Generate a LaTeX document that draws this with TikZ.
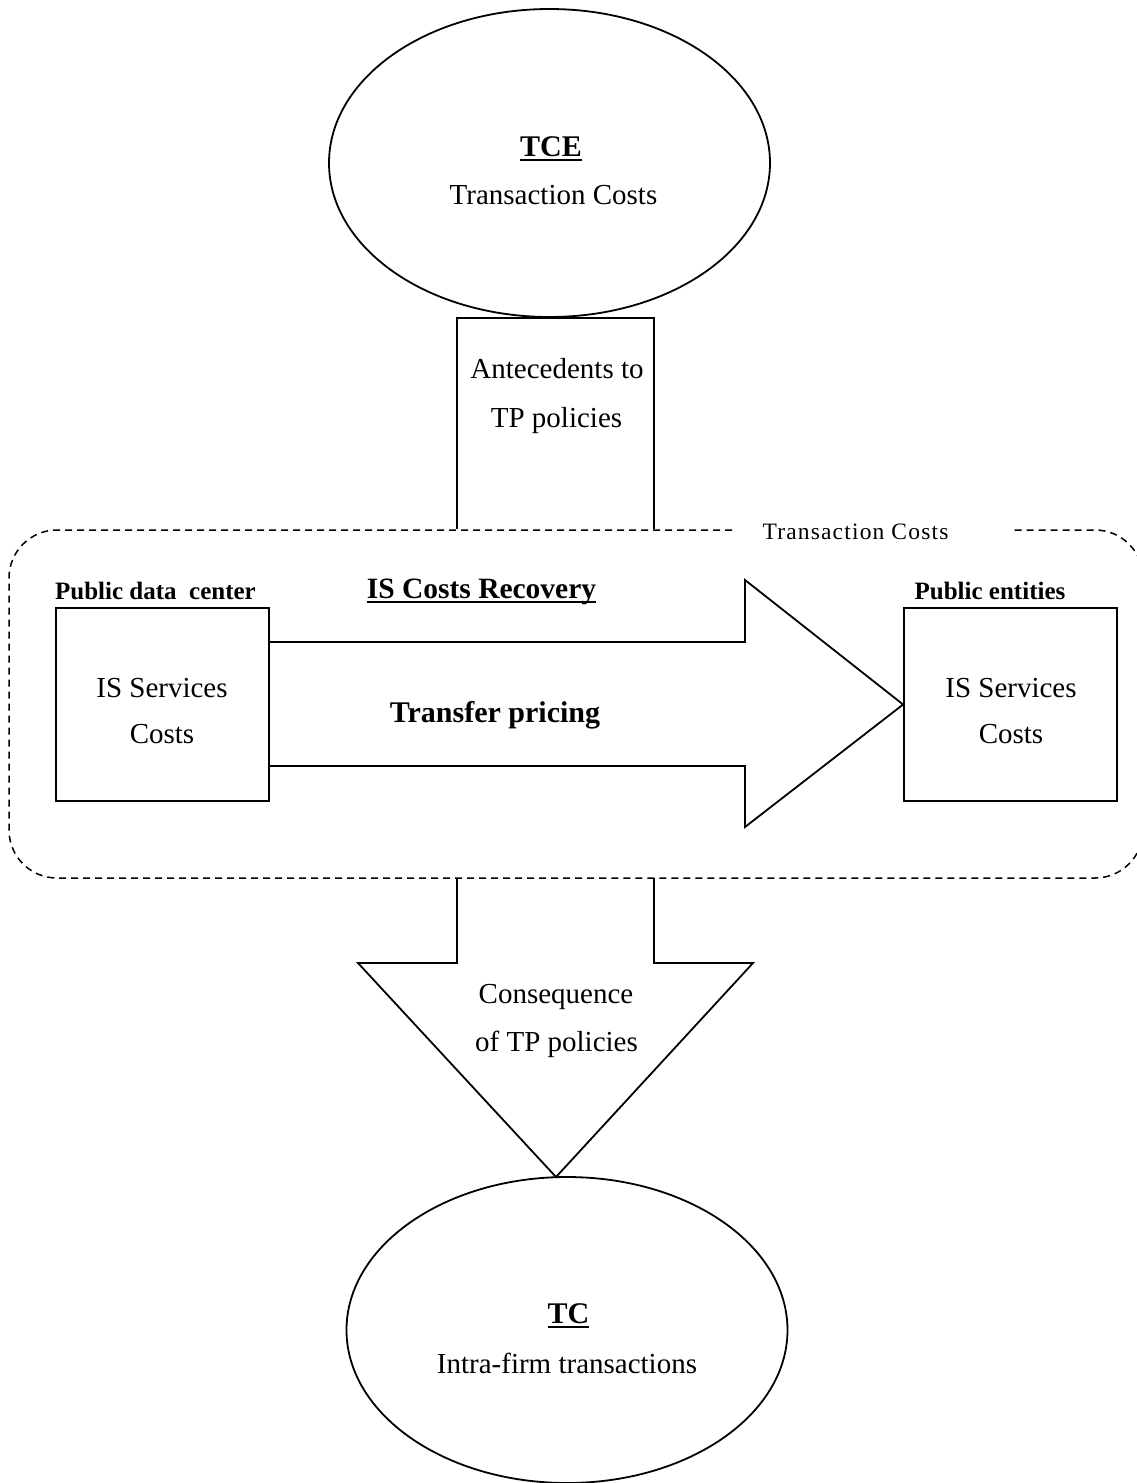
\documentclass[tikz,border=0pt]{standalone}
\usepackage{fontspec}
\setmainfont{Liberation Serif}
\usetikzlibrary{shapes.geometric}
\newcommand{\myul}[1]{\setbox0\hbox{#1}\rlap{\rule[-5pt]{\wd0}{2.5pt}}\box0}
\begin{document}
\begin{tikzpicture}[x=1pt,y=-1pt,line width=1.8pt,line join=miter,
  oval/.style={draw,ellipse,inner sep=0pt},
  costbox/.style={draw,minimum width=213pt,minimum height=193pt,inner sep=0pt},
  txt/.style={anchor=base,inner sep=0pt,font=\fontsize{29}{35}\selectfont},
  hdr/.style={anchor=base,inner sep=0pt,font=\fontsize{30}{36}\selectfont\bfseries},
  lbl/.style={anchor=base,inner sep=0pt,font=\fontsize{25}{30}\selectfont\bfseries},
  dashline/.style={dash pattern=on 7pt off 5pt,line width=1.5pt}]
\useasboundingbox (0,0) rectangle (1136,1483);

% top ellipse
\node[oval,minimum width=441pt,minimum height=308pt] (tce) at (549.5,163) {};
\node[hdr] (tceA) at (551,156) {\myul{TCE}};
\node[txt] (tceB) at (553.5,204) {Transaction Costs};

% antecedents box (open bottom on dashed line)
\coordinate (a1) at (457,529);
\coordinate (a2) at (457,318);
\coordinate (a3) at (654,318);
\coordinate (a4) at (654,529);
\draw (a1) -- (a2) -- (a3) -- (a4);
\node[txt] (antA) at (557,378) {Antecedents to};
\node[txt] (antB) at (556.5,427) {TP policies};

% dashed container
\draw[dashline,rounded corners=48pt] (732,530) -- (9,530) -- (9,878) -- (1143,878) -- (1143,530) -- (1014,530);
\node[anchor=base,inner sep=0pt,font=\fontsize{23.5}{28}\selectfont\addfontfeature{LetterSpace=5}] (tcl) at (855.5,539) {Transaction Costs};

% boxes
\node[costbox] (src) at (162.5,704.5) {};
\node[costbox] (dst) at (1010.5,704.5) {};
\node[lbl] (srcL) at (155.5,599) {Public data\ \ center};
\node[lbl] (dstL) at (990,599) {Public entities};
\node[txt] (srcA) at (162,697) {IS Services};
\node[txt] (srcB) at (162,743) {Costs};
\node[txt] (dstA) at (1011,697) {IS Services};
\node[txt] (dstB) at (1011,743) {Costs};

% right arrow
\draw (269,642) -- (745,642) -- (745,580) -- (dst.west) -- (745,827) -- (745,766) -- (269,766);
\node[anchor=base,inner sep=0pt,font=\fontsize{29.5}{35}\selectfont\bfseries] (rec) at (481.5,598) {\myul{IS Costs Recovery}};
\node[hdr] (tp) at (495,722) {Transfer pricing};

% down arrow
\draw (457,878) -- (457,963) -- (358,963) -- (556,1177) -- (753,963) -- (654,963) -- (654,878);
\node[txt] (conA) at (556,1003) {Consequence};
\node[txt] (conB) at (556.5,1051) {of TP policies};

% bottom ellipse
\node[oval,minimum width=441pt,minimum height=306pt] (tc) at (567,1330) {};
\node[hdr] (tcA) at (568.5,1323) {\myul{TC}};
\node[txt] (tcB) at (567,1373) {Intra-firm transactions};
\end{tikzpicture}
\end{document}
